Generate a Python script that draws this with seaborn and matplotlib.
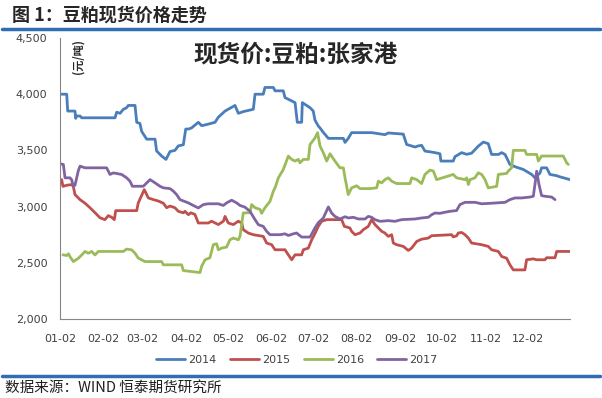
import pandas as pd
import seaborn as sns
from matplotlib import pyplot as plt
from matplotlib.lines import Line2D

# x = days after Jan 2, y = price (yuan/ton)
blue_2014 = [(0, 4000), (4.8, 4000), (5.5, 3850), (10.7, 3850), (11.2, 3785), (11.9, 3806), (14.3, 3806),
             (15.5, 3790), (39.3, 3790), (40.5, 3840), (42.9, 3830), (45.2, 3865), (47.6, 3880), (48.8, 3900),
             (53.6, 3900), (54.8, 3750), (57.1, 3740), (58.3, 3670), (61.9, 3600), (67.9, 3600), (69.0, 3495),
             (72.6, 3450), (75.7, 3420), (78.6, 3490), (82.1, 3500), (84.5, 3540), (88.1, 3550), (89.8, 3690),
             (91.7, 3690), (94.0, 3700), (98.8, 3750), (101.2, 3720), (104.8, 3730), (110.7, 3750), (113.1, 3795),
             (117.9, 3850), (125.0, 3900), (127.4, 3830), (130.9, 3845), (138.1, 3866), (139.3, 4000),
             (145.2, 4000), (146.4, 4060), (152.4, 4060), (153.6, 4030), (159.5, 4030), (160.7, 3970),
             (167.9, 3925), (169.5, 3750), (172.6, 3750), (173.1, 3925), (178.6, 3880), (180.9, 3850),
             (182.1, 3770), (184.5, 3717), (185.7, 3700), (188.1, 3660), (191.7, 3607), (202.4, 3607),
             (203.6, 3571), (205.9, 3607), (208.3, 3658), (222.6, 3658), (232.1, 3640), (234.5, 3655),
             (245.2, 3645), (247.6, 3553), (253.6, 3530), (255.9, 3540), (258.3, 3545), (260.7, 3494),
             (267.9, 3480), (271.4, 3470), (272.1, 3405), (280.9, 3405), (282.1, 3444), (286.9, 3480),
             (290.5, 3465), (294.0, 3475), (298.8, 3538), (302.4, 3574), (305.9, 3560), (308.3, 3464),
             (313.1, 3464), (315.5, 3480), (317.9, 3464), (321.4, 3375), (325.0, 3355), (331.0, 3330),
             (336.9, 3286), (339.3, 3256), (342.9, 3300), (344.0, 3345), (347.6, 3345), (350.0, 3286),
             (354.8, 3275), (357.1, 3265), (364.3, 3240)]

red_2015 = [(1.2, 3240), (2.1, 3180), (4.8, 3190), (8.3, 3196), (9.5, 3180), (10.7, 3107), (14.3, 3062),
            (17.9, 3030), (21.4, 2990), (25, 2946), (28.6, 2900), (32.1, 2884), (34.5, 2920), (36.9, 2905),
            (38.8, 2884), (39.8, 2964), (54.8, 2964), (55.9, 3033), (60.2, 3151), (63.1, 3077), (66.7, 3062),
            (70.2, 3050), (73.8, 3030), (76.2, 2990), (78.6, 3005), (82.1, 2990), (84.5, 2958), (88.1, 2945),
            (89.3, 2958), (91.7, 2928), (93.5, 2945), (96.4, 2930), (98.8, 2854), (105.9, 2854), (108.3, 2870),
            (113.1, 2840), (116.7, 2870), (117.9, 2913), (120.2, 2854), (123.8, 2840), (127.4, 2870),
            (129.8, 2854), (130.9, 2795), (134.5, 2765), (138.1, 2750), (145.2, 2735), (147.6, 2676),
            (151.2, 2661), (153.6, 2616), (160.7, 2616), (163.1, 2571), (165.5, 2527), (167.9, 2571),
            (172.6, 2571), (173.8, 2616), (177.4, 2631), (179.8, 2705), (182.1, 2760), (184.5, 2824),
            (186.9, 2869), (190.5, 2884), (201.2, 2884), (203.1, 2824), (207.1, 2810), (208.3, 2780),
            (210.7, 2750), (214.3, 2765), (216.7, 2795), (220.2, 2824), (222.6, 2884), (225, 2840),
            (227.4, 2810), (229.8, 2780), (232.1, 2765), (234.5, 2735), (236.9, 2750), (238.1, 2676),
            (240.5, 2661), (245.2, 2646), (248.8, 2610), (251.2, 2631), (254.8, 2690), (258.3, 2710),
            (263.1, 2720), (265.5, 2741), (279.8, 2750), (280.9, 2730), (283.3, 2740), (284.5, 2765),
            (286.9, 2770), (289.3, 2750), (291.7, 2720), (294, 2676), (301.2, 2661), (305.9, 2646),
            (308.3, 2616), (313.1, 2601), (315.5, 2556), (319, 2541), (321.4, 2482), (323.8, 2437),
            (332.1, 2437), (333.3, 2527), (338.1, 2535), (340.5, 2527), (346.4, 2527), (347.6, 2545),
            (353.6, 2545), (354.8, 2601), (364.3, 2601)]

green_2016 = [(2.1, 2571), (4.8, 2565), (6, 2580), (7.1, 2555), (9.5, 2511), (13.1, 2540), (15.5, 2570),
              (17.9, 2601), (20.2, 2585), (22.6, 2601), (25, 2570), (27.4, 2601), (45.2, 2601), (47.6, 2622),
              (51.2, 2615), (53.6, 2585), (55.9, 2542), (60.7, 2511), (72.6, 2511), (73.8, 2482), (86.9, 2482),
              (88.1, 2431), (100, 2413), (101.2, 2470), (103.6, 2527), (107.1, 2545), (109.5, 2661),
              (111.9, 2670), (113.1, 2616), (115.5, 2631), (119, 2640), (121.4, 2705), (123.8, 2720),
              (127.4, 2705), (128.6, 2735), (130.9, 2943), (135.7, 2946), (136.9, 3018), (139.3, 2990),
              (142.9, 2975), (144, 2940), (146.4, 2990), (150, 3047), (152.4, 3137), (153.6, 3167),
              (156, 3256), (159.5, 3330), (163.1, 3449), (165.5, 3420), (167.9, 3405), (170.2, 3420),
              (171.4, 3390), (173.8, 3420), (177.4, 3420), (178.6, 3553), (182.1, 3610), (184, 3658),
              (185.7, 3540), (188.1, 3479), (190.5, 3405), (192.9, 3470), (196.4, 3405), (200, 3345),
              (202.4, 3345), (203.6, 3256), (205.9, 3107), (208.3, 3167), (211.9, 3185), (214.3, 3160),
              (221.4, 3160), (226.2, 3167), (227.4, 3226), (229.8, 3211), (232.1, 3240), (234.5, 3256),
              (236.9, 3226), (240.5, 3205), (250, 3205), (251.2, 3256), (254.8, 3240), (258.3, 3205),
              (260.7, 3286), (264.3, 3325), (266.7, 3316), (269, 3240), (280.9, 3286), (283.3, 3256),
              (289.3, 3240), (290.5, 3256), (291.7, 3196), (292.9, 3240), (296.4, 3256), (298.8, 3301),
              (301.2, 3286), (303.6, 3240), (305.9, 3167), (311.9, 3180), (313.1, 3286), (319, 3295),
              (320.2, 3316), (322.6, 3345), (323.8, 3500), (332.1, 3500), (333.3, 3464), (340.5, 3464),
              (341.7, 3405), (344, 3450), (359.5, 3450), (361.9, 3390), (363.1, 3375)]

purple_2017 = [(0, 3381), (2.4, 3375), (3.6, 3256), (7.1, 3256), (8.3, 3240), (9.5, 3181), (10.7, 3190),
               (13.1, 3320), (14.3, 3360), (17.9, 3345), (33.3, 3345), (35.7, 3286), (38.1, 3300), (44, 3286),
               (47.6, 3256), (50, 3226), (51.7, 3181), (59.5, 3181), (64.3, 3240), (67.9, 3211), (71.4, 3181),
               (73.8, 3167), (78.6, 3160), (81, 3137), (83.3, 3107), (85.7, 3062), (91.7, 3033), (95.2, 3010),
               (98.8, 2988), (102.4, 3018), (105.9, 3025), (113.1, 3025), (116.7, 3010), (119, 3033),
               (122.6, 3057), (126.2, 3033), (128.6, 3010), (132.1, 2995), (135.7, 2958), (139.3, 2884),
               (141.7, 2839), (145.2, 2824), (147.6, 2780), (150, 2750), (157.1, 2750), (160.7, 2758),
               (163.1, 2743), (166.7, 2758), (169, 2765), (172.6, 2729), (178.6, 2729), (182.1, 2810),
               (184.5, 2857), (188.1, 2899), (191.7, 2997), (194, 2943), (196.4, 2913), (200, 2890),
               (203.6, 2910), (205.9, 2899), (209.5, 2905), (213.1, 2890), (217.9, 2890), (220.2, 2913),
               (222.6, 2905), (225, 2884), (228.6, 2869), (234.5, 2875), (239.3, 2869), (244, 2884),
               (253.6, 2890), (258.3, 2899), (263.1, 2905), (265.5, 2928), (267.9, 2943), (271.4, 2940),
               (275, 2950), (278.6, 2958), (283.3, 2965), (285.7, 3018), (289.3, 3038), (296.4, 3038),
               (301.2, 3025), (308.3, 3030), (317.9, 3038), (321.4, 3062), (325, 3077), (329.8, 3077),
               (335.7, 3085), (338.1, 3092), (339.3, 3200), (340.5, 3315), (342.1, 3200), (344, 3098),
               (346.4, 3092), (351.2, 3085), (353.6, 3062)]

years = ["2014", "2015", "2016", "2017"]
colors = ["#4A7EBB", "#C0504D", "#9BBB59", "#8064A2"]
tick_days = [0, 31, 59, 90, 120, 151, 181, 212, 243, 273, 304, 334]
tick_labels = ["01-02", "02-02", "03-02", "04-02", "05-02", "06-02",
               "07-02", "08-02", "09-02", "10-02", "11-02", "12-02"]
y_ticks = [2000, 2500, 3000, 3500, 4000, 4500]


def build_frame():
    rows = []
    for year, series in zip(years, [blue_2014, red_2015, green_2016, purple_2017]):
        for day, price in series:
            rows.append({"day": day, "price": price, "year": year})
    return pd.DataFrame(rows)


def main():
    sns.set_style("white")
    plt.rcParams["font.family"] = ["Noto Sans CJK SC", "DejaVu Sans"]
    df = build_frame()

    fig = plt.figure(figsize=(6.02, 3.98), dpi=100)
    ax = fig.add_axes([60 / 602, 1 - 319 / 398, 510 / 602, 281 / 398])

    sns.lineplot(data=df, x="day", y="price", hue="year", palette=colors,
                 estimator=None, sort=False, linewidth=2.0, ax=ax)

    ax.set_xlim(0, 364.3)
    ax.set_ylim(2000, 4500)
    ax.set_xticks(tick_days)
    ax.set_xticklabels(tick_labels)
    ax.set_yticks(y_ticks)
    ax.set_yticklabels([f"{v:,}" for v in y_ticks])
    ax.set_xlabel("")
    ax.set_ylabel("")
    for lab in ax.get_xticklabels() + ax.get_yticklabels():
        lab.set_family("DejaVu Sans")
        lab.set_fontsize(8)
        lab.set_color("#404040")
    ax.tick_params(axis="both", direction="out", length=4, width=0.8, color="#868686")
    ax.tick_params(axis="x", pad=7)
    ax.tick_params(axis="y", pad=5)
    for side in ["top", "right"]:
        ax.spines[side].set_visible(False)
    for side in ["left", "bottom"]:
        ax.spines[side].set_color("#868686")
        ax.spines[side].set_linewidth(0.8)

    sns.move_legend(ax, "center", bbox_to_anchor=((297 - 60) / 510, (319 - 360) / 281),
                    ncol=4, frameon=False, title=None, fontsize=8,
                    handlelength=2.6, handletextpad=0.3, columnspacing=1.2)
    for t in ax.get_legend().get_texts():
        t.set_family("DejaVu Sans")
        t.set_color("#404040")

    # chart titles and unit
    fig.text(296 / 602, 1 - 54 / 398, "现货价:豆粕:张家港", fontsize=17, fontweight="bold",
             ha="center", va="center")
    fig.text(78 / 602, 1 - 56 / 398, "(元/吨)", fontsize=8, fontweight="bold",
             rotation=90, ha="center", va="center")

    # report header / footer
    fig.text(12 / 602, 1 - 15 / 398, "图 1：豆粕现货价格走势", fontsize=13, fontweight="bold",
             ha="left", va="center")
    for y in [29, 376]:
        fig.add_artist(Line2D([2 / 602, 600 / 602], [1 - y / 398] * 2, color="#2F6EB5",
                              linewidth=2.5, transform=fig.transFigure))
    fig.text(5 / 602, 1 - 388 / 398, "数据来源：WIND 恒泰期货研究所", fontsize=10.5,
             ha="left", va="center", color="#202020")

    fig.savefig("out.png", dpi=100)


if __name__ == '__main__':
    main()
